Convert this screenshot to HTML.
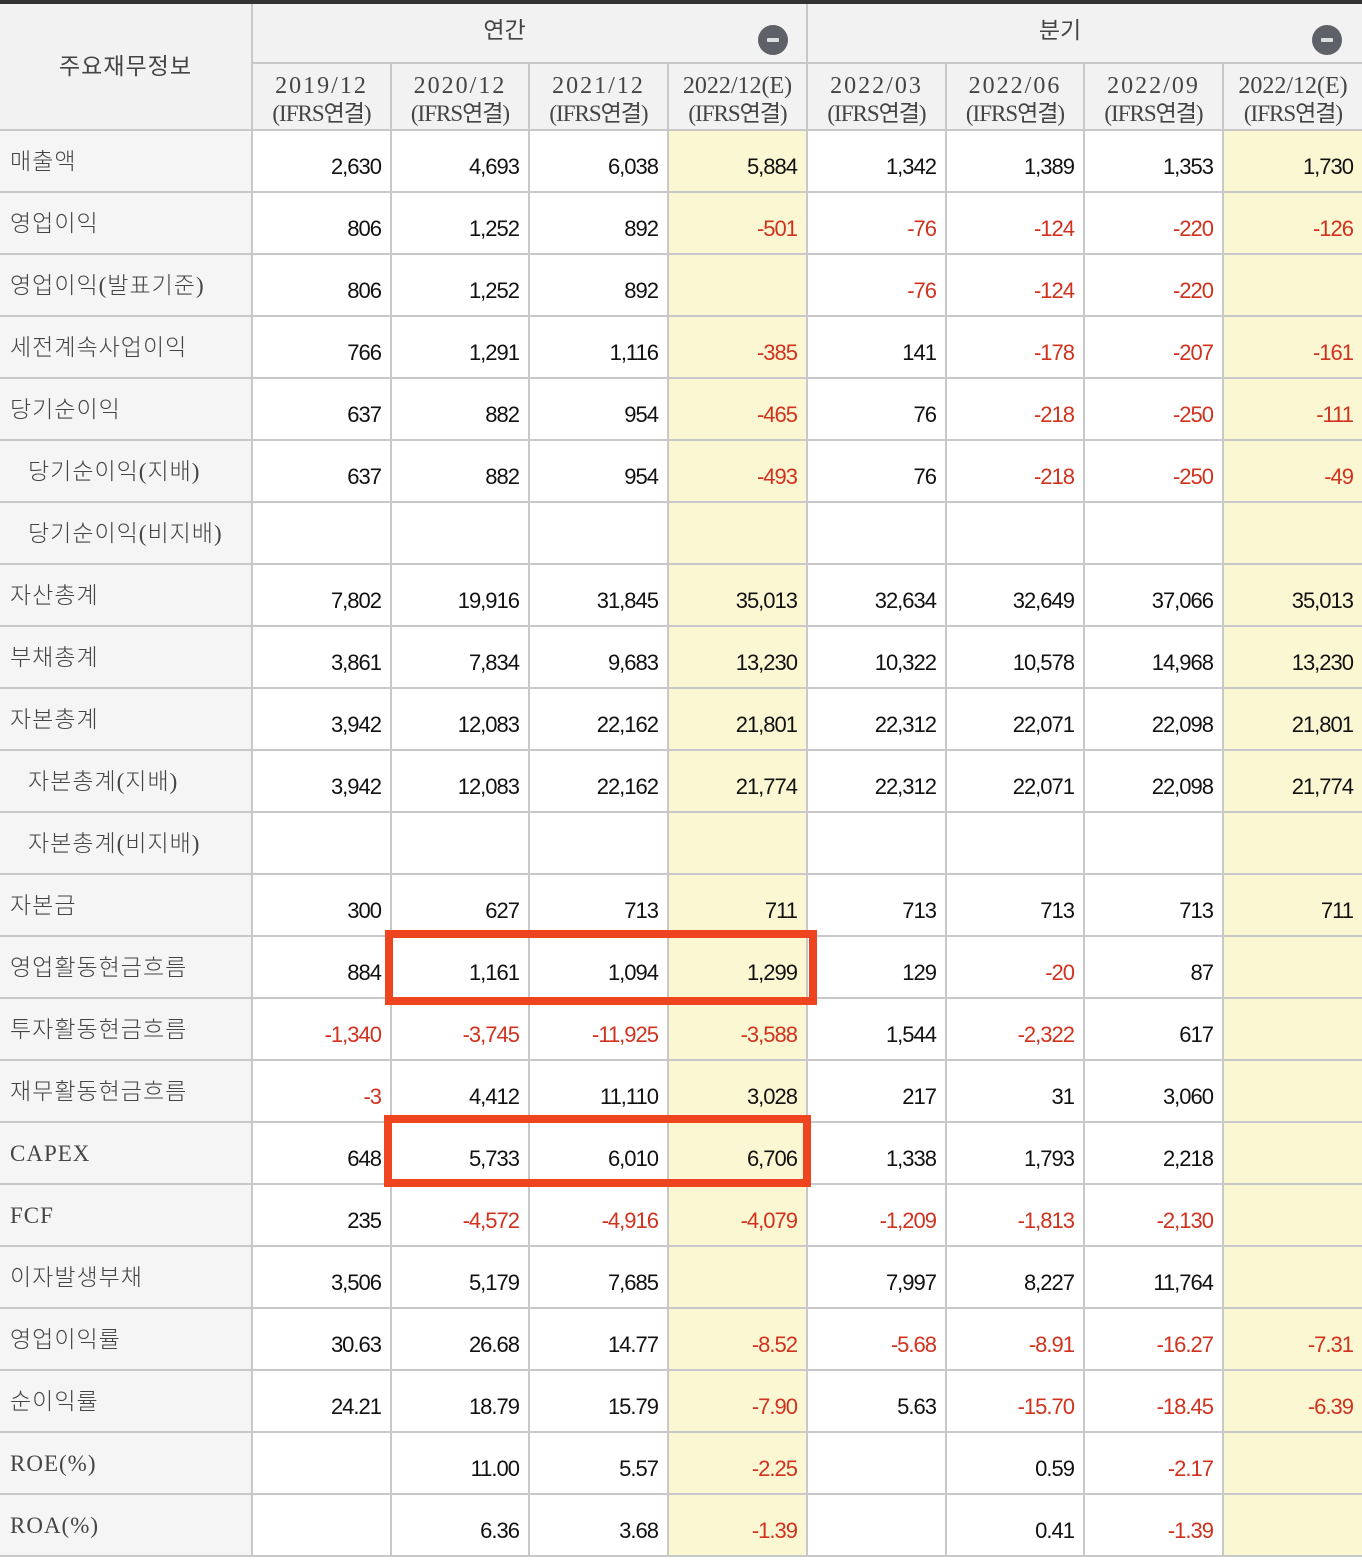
<!DOCTYPE html>
<html><head><meta charset="utf-8">
<style>
body{margin:0;width:1362px;height:1558px;background:#fff;overflow:hidden;position:relative}
.c{position:absolute;box-sizing:border-box}
.lab{font-family:"Liberation Serif","Noto Sans CJK KR",serif;font-size:23px;color:#444;font-weight:300;letter-spacing:1px}
.num{font-family:"Liberation Sans",sans-serif;font-size:22px;color:#111;text-align:right;letter-spacing:-1px}
.neg{color:#d0321e}
.hd{font-family:"Liberation Serif","Noto Sans CJK KR",serif;color:#444;text-align:center;font-size:23px;line-height:28px}
.box{position:absolute;border:8px solid #ee4420;box-sizing:border-box}
</style></head><body>
<div class="c" style="left:0;top:0;width:1362px;height:4px;background:#333"></div>
<div id="t"></div>
<div class="box" style="left:385px;top:930px;width:432px;height:75px"></div>
<div class="box" style="left:384px;top:1115px;width:427px;height:72px"></div>
<script>
const labels=["매출액","영업이익","영업이익(발표기준)","세전계속사업이익","당기순이익"," 당기순이익(지배)"," 당기순이익(비지배)","자산총계","부채총계","자본총계"," 자본총계(지배)"," 자본총계(비지배)","자본금","영업활동현금흐름","투자활동현금흐름","재무활동현금흐름","CAPEX","FCF","이자발생부채","영업이익률","순이익률","ROE(%)","ROA(%)"];
const periods=["2019/12","2020/12","2021/12","2022/12(E)","2022/03","2022/06","2022/09","2022/12(E)"];
const values=[
["2,630","4,693","6,038","5,884","1,342","1,389","1,353","1,730"],
["806","1,252","892","-501","-76","-124","-220","-126"],
["806","1,252","892","","-76","-124","-220",""],
["766","1,291","1,116","-385","141","-178","-207","-161"],
["637","882","954","-465","76","-218","-250","-111"],
["637","882","954","-493","76","-218","-250","-49"],
["","","","","","","",""],
["7,802","19,916","31,845","35,013","32,634","32,649","37,066","35,013"],
["3,861","7,834","9,683","13,230","10,322","10,578","14,968","13,230"],
["3,942","12,083","22,162","21,801","22,312","22,071","22,098","21,801"],
["3,942","12,083","22,162","21,774","22,312","22,071","22,098","21,774"],
["","","","","","","",""],
["300","627","713","711","713","713","713","711"],
["884","1,161","1,094","1,299","129","-20","87",""],
["-1,340","-3,745","-11,925","-3,588","1,544","-2,322","617",""],
["-3","4,412","11,110","3,028","217","31","3,060",""],
["648","5,733","6,010","6,706","1,338","1,793","2,218",""],
["235","-4,572","-4,916","-4,079","-1,209","-1,813","-2,130",""],
["3,506","5,179","7,685","","7,997","8,227","11,764",""],
["30.63","26.68","14.77","-8.52","-5.68","-8.91","-16.27","-7.31"],
["24.21","18.79","15.79","-7.90","5.63","-15.70","-18.45","-6.39"],
["","11.00","5.57","-2.25","","0.59","-2.17",""],
["","6.36","3.68","-1.39","","0.41","-1.39",""]];
const t=document.getElementById('t');
const colX=[0,253,392,530,669,808,947,1085,1224,1362];
const rowTop=131,rowH=62;
function mk(cls,st,txt){const d=document.createElement('div');d.className='c '+cls;d.style.cssText=st;if(txt!==undefined)d.textContent=txt;t.appendChild(d);return d;}
let h=mk('','left:0;top:4px;width:1362px;height:127px;background:#f2f2f2;border-bottom:2px solid #c8c8c8');

let hl=mk('hd','left:0;top:4px;width:253px;height:127px;border-right:2px solid #c8c8c8;padding-top:49px;letter-spacing:1px','주요재무정보');

[["연간",253,808],["분기",808,1362]].forEach(([g,a,b],i)=>{
 let d=mk('hd',`left:${a}px;top:4px;width:${b-a}px;height:60px;border-bottom:2px solid #c8c8c8;border-right:${i==0?2:0}px solid #c8c8c8;padding-top:13px;padding-right:50px`,g);
 
 let ic=mk('',`left:${b-50}px;top:25px;width:30px;height:30px;border-radius:50%;background:#5f6168`);
 
 let bar=document.createElement('div');bar.style.cssText='position:absolute;left:9px;top:13px;width:12px;height:4px;background:#ddd;border-radius:1px';ic.appendChild(bar);
});
periods.forEach((p,i)=>{
 let d=mk('hd',`left:${colX[i+1]}px;top:64px;width:${colX[i+2]-colX[i+1]}px;height:66px;border-right:${i<7?2:0}px solid #c8c8c8;padding-top:8px;font-size:24px;letter-spacing:${p.length>8?0:2}px`);
 d.innerHTML=p+'<br><span style="letter-spacing:-1px;font-size:23px">(IFRS연결)</span>';
 
});
labels.forEach((l,r)=>{
 const y=rowTop+r*rowH;
 let ind=l.startsWith(' ');
 let d=mk('lab',`left:0;top:${y}px;width:253px;height:${rowH}px;background:#f5f5f5;border-right:2px solid #c8c8c8;border-bottom:2px solid #c8c8c8;padding-left:${ind?28:10}px;line-height:62px`,l.trim());
 
 values[r].forEach((v,c)=>{
  const bg=(c==3||c==7)?'#fcf7d3':'#fff';
  let e=mk('num'+(v.startsWith('-')?' neg':''),`left:${colX[c+1]}px;top:${y}px;width:${colX[c+2]-colX[c+1]}px;height:${rowH}px;background:${bg};border-right:${c<7?2:0}px solid #c8c8c8;border-bottom:2px solid #c8c8c8;padding-right:9px;line-height:72px`,v);
  
 });
});
</script>
</body></html>
